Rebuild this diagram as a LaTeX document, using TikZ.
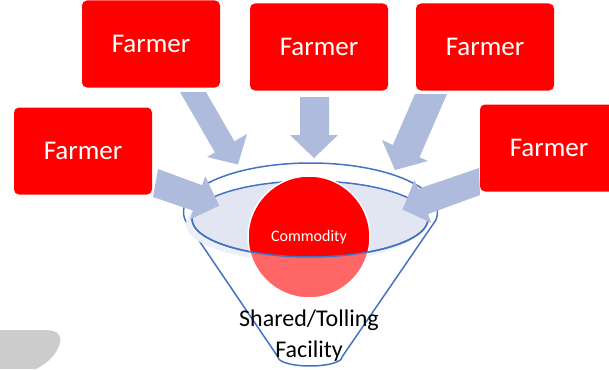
\documentclass[tikz,border=0pt]{standalone}
\usepackage{fontspec}
\setmainfont{Carlito}
\definecolor{farmred}{HTML}{FF0000}
\definecolor{arrowblue}{HTML}{AFBBDC}
\definecolor{rimblue}{HTML}{4472C4}
\definecolor{innerfill}{HTML}{E1E6F2}
\definecolor{shadowc}{HTML}{EDF0F8}
\definecolor{blobgray}{HTML}{CCCCCC}
\tikzset{
  farmerbox/.style={rectangle, rounded corners=5pt, fill=farmred, text=white,
    minimum width=138pt, minimum height=87pt, inner sep=0pt,
    font=\fontsize{27}{32}\selectfont},
  rim/.style={draw=rimblue, line width=1.5pt},
  blockarrow/.style={fill=arrowblue},
  facility/.style={anchor=base, text=black, font=\fontsize{24}{29}\selectfont}
}
\begin{document}
\begin{tikzpicture}[x=1pt,y=-1pt]
\useasboundingbox (0,0) rectangle (609,369);
% gray blob
\fill[blobgray] (0,330) -- (45,330) .. controls (58,330) and (62,336) .. (60,343)
  .. controls (57,354) and (48,363) .. (36,369) -- (0,369) -- cycle;
% funnel body
\draw[rim, fill=white] plot[domain=10:-190, samples=90] ({310.5+127*cos(\x)},{212+49*sin(\x)})
  -- (278,357) -- plot[domain=180:0, samples=30] ({310+32*cos(\x)},{357+9*sin(\x)}) -- cycle;
\fill[shadowc] (304,224) ellipse[x radius=118, y radius=38];
\draw[rim, fill=innerfill] (310,219) ellipse[x radius=118, y radius=38];
% commodity
\node[circle, fill=farmred, draw=white, line width=1.5pt, minimum size=122pt, inner sep=0pt,
  text=white, font=\fontsize{16}{19}\selectfont] (com) at (309,237) {Commodity};
\begin{scope}
  \clip (309,237) circle[radius=61];
  \fill[white, opacity=0.4] plot[domain=180:0, samples=60] ({310+118*cos(\x)},{219+38*sin(\x)})
    -- (440,400) -- (180,400) -- cycle;
\end{scope}
\draw[rim] plot[domain=180:0, samples=60] ({310+118*cos(\x)},{219+38*sin(\x)});
% facility label
\node[facility] (fac1) at (309,326) {Shared/Tolling};
\node[facility] (fac2) at (309,357) {Facility};
% farmers
\node[farmerbox] (f1) at (151,44) {Farmer};
\node[farmerbox] (f2) at (319,47) {Farmer};
\node[farmerbox] (f3) at (485,47) {Farmer};
\node[farmerbox] (f4) at (83,151) {Farmer};
\node[farmerbox] (f5) at (549,148) {Farmer};
% block arrows
\fill[blockarrow] (180,92) -- (206,92) -- (234.4,141.3) -- (247,134) -- (238,164.5)
  -- (207,157) -- (214.9,152.4) -- cycle;
\fill[blockarrow] (300,97) -- (329,97) -- (329,135) -- (338,135) -- (314,158)
  -- (290,135) -- (300,135) -- cycle;
\fill[blockarrow] (415,94) -- (447,94) -- (419.5,157.2) -- (428,161) -- (395,170)
  -- (382,140) -- (392.8,145) -- cycle;
\fill[blockarrow] (158,169) -- (202,185.2) -- (205.2,176.2) -- (219.2,205.6)
  -- (189.8,219.6) -- (193,210.6) -- (153,197) -- cycle;
\fill[blockarrow] (479,168) -- (480,195) -- (427.9,214.1) -- (431.4,222.9)
  -- (402.5,209.5) -- (414.6,180.1) -- (418.1,188.9) -- cycle;
\end{tikzpicture}
\end{document}
